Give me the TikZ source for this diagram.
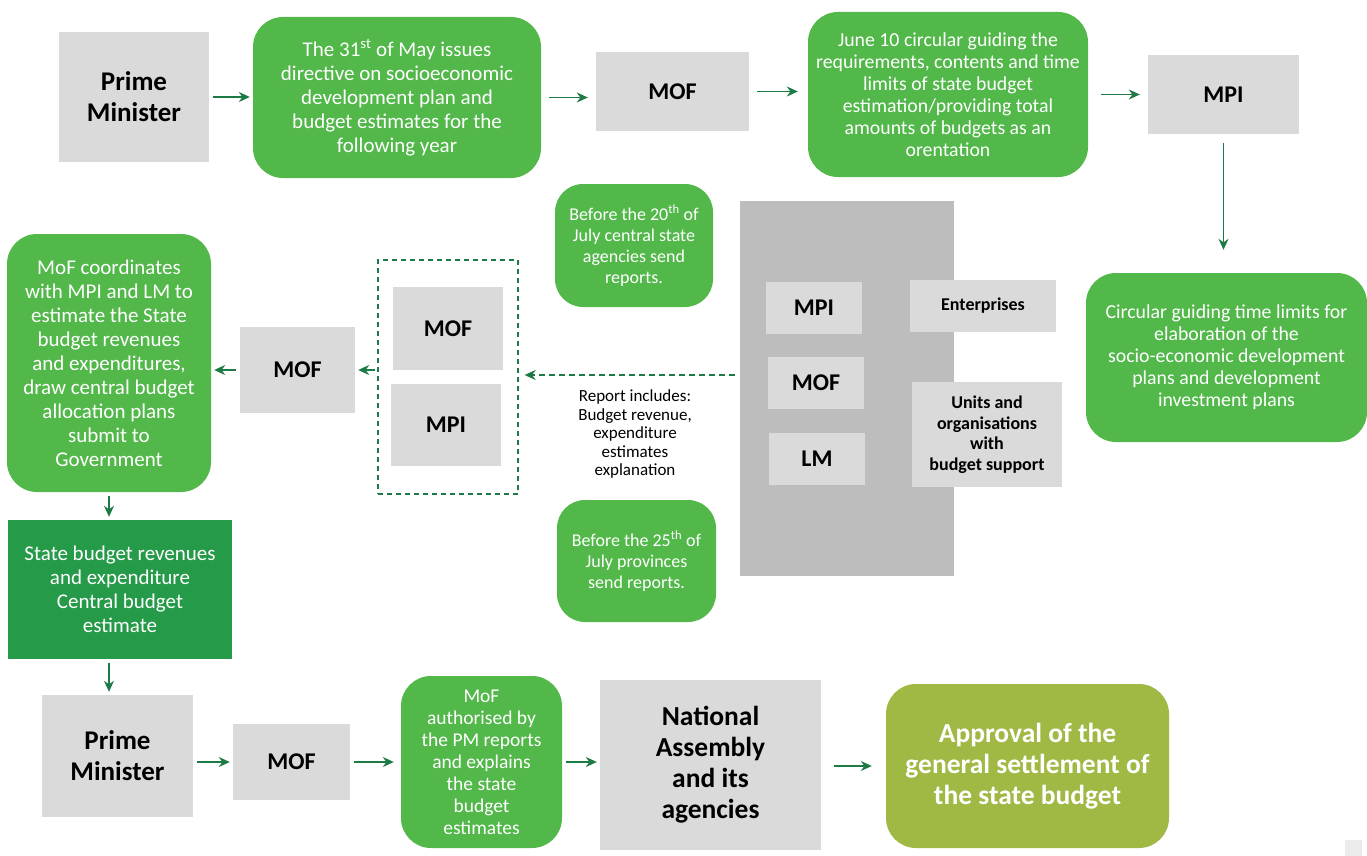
\documentclass[tikz,border=0pt]{standalone}
\usepackage{fontspec}
\setmainfont{Carlito}
\usetikzlibrary{arrows.meta}

\definecolor{boxgrey}{HTML}{DADADA}
\definecolor{colgrey}{HTML}{BDBDBD}
\definecolor{stepgreen}{HTML}{52B84A}
\definecolor{darkgreen}{HTML}{259A48}
\definecolor{olive}{HTML}{A0B945}
\definecolor{arrowgreen}{HTML}{1E7A45}

\tikzset{
    sz/.style 2 args={minimum width=#1pt, minimum height=#2pt},
    greybox/.style={fill=boxgrey, inner sep=0pt, align=center, text=black,
        font=\bfseries\fontsize{24}{28}\selectfont},
    greenbox/.style={fill=stepgreen, rounded corners=30pt, inner sep=0pt,
        align=center, text=white, font=\fontsize{21}{24}\selectfont},
    arr/.style={draw=arrowgreen, line width=1.5pt,
        -{Stealth[length=11pt,width=10pt]}, shorten >=3pt, shorten <=4pt},
}

\begin{document}
\begin{tikzpicture}[x=1pt, y=-1pt]
    \useasboundingbox (0,0) rectangle (1367,856);

    % top row
    \node[greybox, sz={150}{130}, font=\bfseries\fontsize{27}{31}\selectfont] (pm1) at (134,97) {Prime\\Minister};
    \node[greenbox, sz={288}{161}] (may) at (397,97.5)
        {The 31\textsuperscript{st} of May issues\\directive on socioeconomic\\development plan and\\budget estimates for the\\following year};
    \node[greybox, sz={153}{79}] (mof1) at (672.5,91.5) {MOF};
    \node[greenbox, sz={280}{165}, font=\fontsize{19.8}{22}\selectfont] (june) at (948,94.5)
        {June 10 circular guiding the\\requirements, contents and time\\limits of state budget\\estimation/providing total\\amounts of budgets as an\\orentation};
    \node[greybox, sz={151}{79}] (mpi1) at (1223.5,94.5) {MPI};
    \node[greenbox, sz={281}{169}, font=\fontsize{19.8}{22}\selectfont] (circ) at (1226.5,357.5)
        {Circular guiding time limits for\\elaboration of the\\socio-economic development\\plans and development\\investment plans};

    % reporting agencies
    \node[greenbox, sz={158}{123}, rounded corners=28pt, font=\fontsize{18}{21}\selectfont] (jul20) at (634,245.5)
        {Before the 20\textsuperscript{th} of\\July central state\\agencies send\\reports.};
    \node[fill=colgrey, sz={214}{375}, inner sep=0pt] (col) at (847,388.5) {};
    \node[greybox, sz={96}{52}] (mpi2) at (814,308) {MPI};
    \node[greybox, sz={96}{52}] (mof2) at (816,383) {MOF};
    \node[greybox, sz={96}{52}] (lm) at (817,459) {LM};
    \node[greybox, sz={146}{52}, font=\bfseries\fontsize{18}{20.5}\selectfont] (ent) at (983,306) {Enterprises};
    \node[greybox, sz={150}{105}, font=\bfseries\fontsize{18}{20.5}\selectfont] (units) at (987,434.5)
        {Units and\\organisations\\with\\budget support};
    \node[greenbox, sz={159}{122}, rounded corners=28pt, font=\fontsize{18}{21}\selectfont] (jul25) at (636.5,561)
        {Before the 25\textsuperscript{th} of\\July provinces\\send reports.};
    \node[align=center, font=\fontsize{17}{18.5}\selectfont] (report) at (635,434)
        {Report includes:\\Budget revenue,\\expenditure\\estimates\\explanation};

    % MOF and MPI group
    \node[draw=arrowgreen, dashed, line width=1.3pt, dash pattern=on 5pt off 4pt,
        sz={140}{234}, inner sep=0pt] (grp) at (448,377) {};
    \node[greybox, sz={110}{83}] (mof3) at (448,328.5) {MOF};
    \node[greybox, sz={110}{82}] (mpi3) at (446,425) {MPI};
    \node[greybox, sz={115}{86}] (mof4) at (297.5,370) {MOF};
    \node[greenbox, sz={204}{258}] (coord) at (109,363)
        {MoF coordinates\\with MPI and LM to\\estimate the State\\budget revenues\\and expenditures,\\draw central budget\\allocation plans\\submit to\\Government};
    \node[fill=darkgreen, sz={224}{139}, inner sep=0pt, align=center, text=white,
        font=\fontsize{21}{24}\selectfont] (est) at (120,589.5)
        {State budget revenues\\and expenditure\\Central budget\\estimate};

    % bottom row
    \node[greybox, sz={151}{122}, font=\bfseries\fontsize{27}{31}\selectfont] (pm2) at (117.5,756) {Prime\\Minister};
    \node[greybox, sz={117}{76}] (mof5) at (291.5,762) {MOF};
    \node[greenbox, sz={161}{172}, font=\fontsize{19.5}{22}\selectfont] (auth) at (481.5,762)
        {MoF\\authorised by\\the PM reports\\and explains\\the state\\budget\\estimates};
    \node[greybox, sz={221}{170}, font=\bfseries\fontsize{27.5}{31}\selectfont] (na) at (710.5,765)
        {National\\Assembly\\and its\\agencies};
    \node[greenbox, fill=olive, sz={283}{164}, font=\bfseries\fontsize{27.5}{31}\selectfont] (appr) at (1027.5,766)
        {Approval of the\\general settlement of\\the state budget};
    \node[fill=black!8, sz={17}{16}, inner sep=0pt] (corner) at (1353.5,848) {};

    % connectors
    \draw[arr] (pm1.east) -- (pm1.east -| may.west);
    \draw[arr, shorten <=8pt, shorten >=8pt] (may.east) -- (may.east -| mof1.west);
    \draw[arr, shorten <=8pt, shorten >=10pt] (mof1.east) -- (mof1.east -| june.west);
    \draw[arr, shorten <=13pt, shorten >=8pt] (june.east) -- (june.east -| mpi1.west);
    \draw[arr, shorten <=9pt, shorten >=23pt] (mpi1.south) -- (mpi1.south |- circ.north);
    \draw[arr, dashed, dash pattern=on 6pt off 4pt, shorten <=5pt, shorten >=6pt] (col.west |- 0,375) -- (grp.east |- 0,375);
    \draw[arr, shorten <=2pt] (grp.west |- mof4) -- (mof4.east);
    \draw[arr] (mof4.west) -- (mof4.west -| coord.east);
    \draw[arr] (coord.south) -- (coord.south |- est.north);
    \draw[arr] (coord.south |- est.south) -- (coord.south |- pm2.north);
    \draw[arr] (pm2.east |- mof5) -- (mof5.west);
    \draw[arr, shorten >=7pt] (mof5.east) -- (mof5.east -| auth.west);
    \draw[arr] (auth.east) -- (auth.east -| na.west);
    \draw[arr, shorten <=13pt, shorten >=14pt] (na.east |- appr) -- (appr.west);
\end{tikzpicture}
\end{document}
